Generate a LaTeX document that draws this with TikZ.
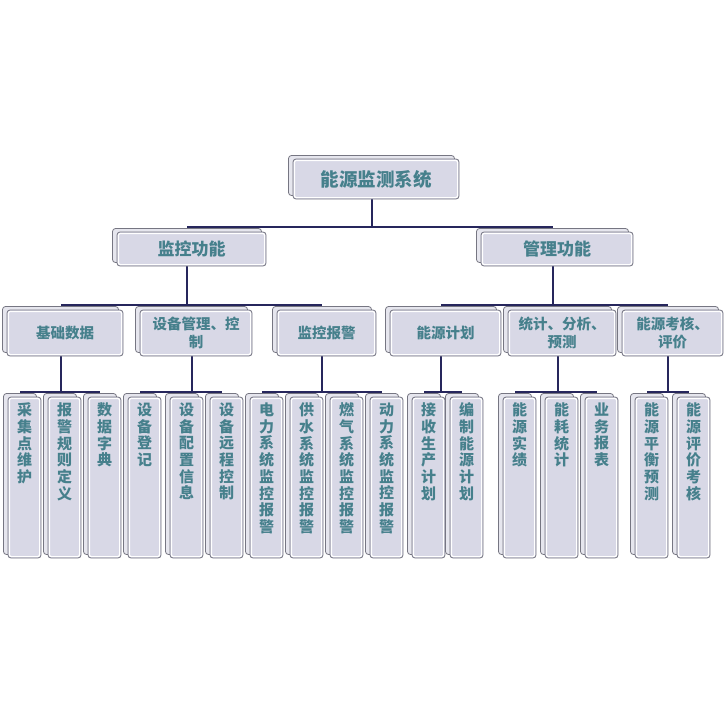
\documentclass[tikz,border=0pt]{standalone}
\usepackage{fontspec}
\setmainfont{Noto Sans CJK SC}
\usetikzlibrary{shadows}
\definecolor{boxfill}{RGB}{216,216,230}
\definecolor{backfill}{RGB}{230,230,238}
\definecolor{boxline}{RGB}{118,118,130}
\definecolor{txt}{RGB}{70,128,140}
\definecolor{conn}{RGB}{38,38,92}
\pgfdeclarelayer{background}
\pgfsetlayers{background,main}
\tikzset{
  card/.style={rectangle, rounded corners=3pt, draw=boxline, line width=0.8pt,
    fill=boxfill, inner sep=0pt, text=txt, align=center,
    general shadow={fill=backfill, draw=boxline, line width=0.8pt,
      shadow xshift=-4.5pt, shadow yshift=3.5pt},
    path picture={\draw[white, line width=1.2pt, rounded corners=2pt]
      ([shift={(1.4pt,-1.4pt)}]path picture bounding box.north west) rectangle
      ([shift={(-1.4pt,1.4pt)}]path picture bounding box.south east);}},
  topcard/.style={card, minimum width=166pt, minimum height=40pt,
    font=\fontsize{18.5}{22}\selectfont\bfseries},
  midcard/.style={card, minimum height=34pt,
    font=\fontsize{17}{20}\selectfont\bfseries},
  lowcard/.style={card, minimum height=46pt,
    font=\fontsize{14.5}{18}\selectfont\bfseries},
  leafcard/.style={card, minimum width=33pt, minimum height=161pt},
  leaftext/.style={anchor=north, inner sep=0pt, text=txt, align=center,
    font=\fontsize{15}{16.7}\selectfont\bfseries},
  wire/.style={draw=conn, line width=2pt}
}
\begin{document}
\begin{tikzpicture}[x=1pt,y=-1pt]
\useasboundingbox (0,0) rectangle (725,725);

\node[topcard] (top) at (376,179) {能源监测系统};

\node[midcard, minimum width=149pt] (m1) at (191.5,249) {监控功能};
\node[midcard, minimum width=152pt] (m2) at (557,249) {管理功能};

\node[lowcard, minimum width=116pt] (b1) at (65,333) {基础数据};
\node[lowcard, minimum width=112pt] (b2) at (196,333) {设备管理、控\\制};
\node[lowcard, minimum width=99pt]  (b3) at (326.5,333) {监控报警};
\node[lowcard, minimum width=111pt] (b4) at (445.5,333) {能源计划};
\node[lowcard, minimum width=108pt] (b5) at (562,333) {统计、分析、\\预测};
\node[lowcard, minimum width=101pt] (b6) at (672.5,333) {能源考核、\\评价};

\foreach \n/\x/\t in {
  l1a/24.5/{采\\集\\点\\维\\护},
  l1b/64.5/{报\\警\\规\\则\\定\\义},
  l1c/104.5/{数\\据\\字\\典},
  l2a/144.5/{设\\备\\登\\记},
  l2b/186.5/{设\\备\\配\\置\\信\\息},
  l2c/226.5/{设\\备\\远\\程\\控\\制},
  l3a/266.5/{电\\力\\系\\统\\监\\控\\报\\警},
  l3b/306.5/{供\\水\\系\\统\\监\\控\\报\\警},
  l3c/346.5/{燃\\气\\系\\统\\监\\控\\报\\警},
  l3d/386.5/{动\\力\\系\\统\\监\\控\\报\\警},
  l4a/428.5/{接\\收\\生\\产\\计\\划},
  l4b/466.5/{编\\制\\能\\源\\计\\划},
  l5a/519.5/{能\\源\\实\\绩},
  l5b/561.5/{能\\耗\\统\\计},
  l5c/601.5/{业\\务\\报\\表},
  l6a/651.5/{能\\源\\平\\衡\\预\\测},
  l6b/693.5/{能\\源\\评\\价\\考\\核}}{
  \node[leafcard] (\n) at (\x,477.5) {};
  \node[leaftext] (\n t) at ([yshift=-6pt]\n.north) {\t};
}

\begin{pgfonlayer}{background}
\fill[white] (0,0) rectangle (725,725);
\foreach \p/\c in {top/m1, top/m2,
  m1/b1, m1/b2, m1/b3, m2/b4, m2/b5, m2/b6,
  b1/l1a, b1/l1b, b1/l1c, b2/l2a, b2/l2b, b2/l2c,
  b3/l3a, b3/l3b, b3/l3c, b3/l3d, b4/l4a, b4/l4b,
  b5/l5a, b5/l5b, b5/l5c, b6/l6a, b6/l6b}{
  \draw[wire] ([xshift=-4.5pt]\p.south) |- ([xshift=-4.5pt,yshift=4.5pt]\c.north);
}
\end{pgfonlayer}
\end{tikzpicture}
\end{document}
